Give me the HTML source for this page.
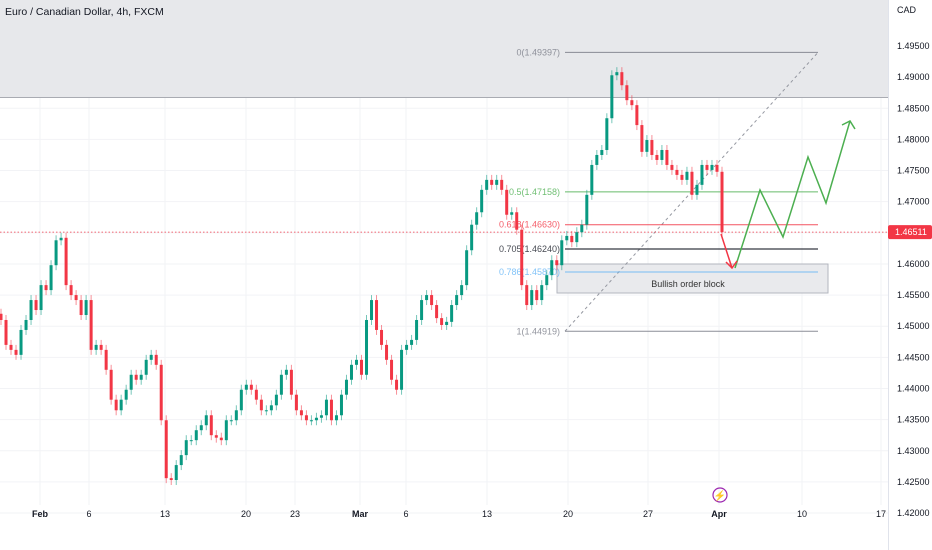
<!DOCTYPE html>
<html><head><meta charset="utf-8">
<style>
body{margin:0;background:#fff;}
svg{display:block;font-family:"Liberation Sans",sans-serif;}
</style></head>
<body>
<svg id="chart" width="932" height="550" viewBox="0 0 932 550" xmlns="http://www.w3.org/2000/svg">
<rect x="0" y="0" width="932" height="550" fill="#fff"/>
<g id="grid"></g>
<rect x="0" y="0" width="888" height="97" fill="#e7e8eb"/>
<line x1="0" y1="97.5" x2="888" y2="97.5" stroke="#a9abb2" stroke-width="1"/>
<text x="5" y="15" font-size="10.5" fill="#131722">Euro / Canadian Dollar, 4h, FXCM</text>
<rect x="557" y="264" width="271" height="29" fill="#e9eaed" stroke="#b2b5be" stroke-width="1"/>
<text x="688" y="287" font-size="9" fill="#333" text-anchor="middle">Bullish order block</text>
<g id="fib"></g>
<line id="lastline" x1="0" x2="888" stroke="#f23645" stroke-width="0.7" stroke-dasharray="1.5,2"/>
<g id="candles"></g>
<g id="proj"></g>
<g id="axis"></g>
<g id="xaxis"></g>
<circle cx="720" cy="495" r="7" fill="none" stroke="#9c27b0" stroke-width="1.2"/>
<text x="720" y="499" font-size="10" fill="#9c27b0" text-anchor="middle">⚡</text>
</svg>
<script>
const closes=[1.4510,1.4470,1.4462,1.4454,1.4494,1.4510,1.4542,1.4526,1.4566,1.4558,1.4598,1.4638,1.4642,1.4566,1.4550,1.4542,1.4518,1.4542,1.4462,1.4470,1.4462,1.4430,1.4382,1.4365,1.4382,1.4398,1.4422,1.4414,1.4422,1.4446,1.4454,1.4438,1.4349,1.4256,1.4253,1.4277,1.4293,1.4317,1.4317,1.4333,1.4341,1.4357,1.4325,1.4321,1.4317,1.4349,1.4349,1.4365,1.4398,1.4406,1.4398,1.4382,1.4365,1.4365,1.4373,1.4390,1.4422,1.4430,1.4390,1.4365,1.4357,1.4349,1.4349,1.4353,1.4357,1.4382,1.4349,1.4357,1.4390,1.4414,1.4438,1.4446,1.4422,1.4510,1.4542,1.4494,1.4470,1.4446,1.4414,1.4398,1.4462,1.4470,1.4478,1.4510,1.4542,1.4550,1.4534,1.4513,1.4502,1.4507,1.4534,1.4550,1.4566,1.4622,1.4663,1.4683,1.4719,1.4735,1.4727,1.4735,1.4719,1.4679,1.4683,1.4655,1.4566,1.4534,1.4558,1.4542,1.4566,1.4582,1.4606,1.4598,1.4638,1.4645,1.4635,1.4651,1.4663,1.4711,1.4759,1.4775,1.4783,1.4834,1.4903,1.4908,1.4887,1.4863,1.4855,1.4823,1.4780,1.4799,1.4775,1.4767,1.4783,1.4759,1.4751,1.4743,1.4735,1.4748,1.4711,1.4727,1.4759,1.4751,1.4759,1.4748,1.46511];
const priceTicks=[1.495,1.490,1.485,1.480,1.475,1.470,1.465,1.460,1.455,1.450,1.445,1.440,1.435,1.430,1.425,1.420];
const dateLabels=["Feb","6","13","20","23","Mar","6","13","20","27","Apr","10","17"];
const dateX=[40,89,165,246,295,360,406,487,568,648,719,802,881];
const fibRatios=["0","0.5","0.618","0.705","0.786","1"];
const fibPrices=[1.49397,1.47158,1.46630,1.46240,1.45870,1.44919];
const fibColors=["#787b86","#4caf50","#f23645","#131722","#64b5f6","#787b86"];
const lastPrice=1.46511;
const NS="http://www.w3.org/2000/svg";
function y(p){return 46+(1.495-p)*6227;}
function x(i){return 1+i*(721/(closes.length-1));}
function mk(t,a,par){const e=document.createElementNS(NS,t);for(const k in a)e.setAttribute(k,a[k]);par.appendChild(e);return e;}
const grid=document.getElementById('grid');
priceTicks.forEach(p=>{const l=mk('line',{x1:0,x2:888,y1:y(p),y2:y(p),stroke:'#f2f3f6','stroke-width':1},grid);});
dateX.forEach(d=>{const l=mk('line',{x1:d,x2:d,y1:0,y2:505,stroke:'#f2f3f6','stroke-width':1},grid);});
// fib
const fib=document.getElementById('fib');
const dl=mk('line',{x1:565,y1:y(fibPrices[5]),x2:818,y2:y(fibPrices[0]),stroke:'#9598a1','stroke-width':1,'stroke-dasharray':'3,3'},fib);

fibPrices.forEach((p,i)=>{
 const l=mk('line',{x1:565,x2:818,y1:y(p),y2:y(p),stroke:fibColors[i],'stroke-width':i==3?1.3:1,opacity:0.85},fib);
 
 const t=mk('text',{x:560,y:y(p)+3,'font-size':9,fill:fibColors[i],'text-anchor':'end',opacity:0.8},fib);
 t.textContent=fibRatios[i]+"("+p.toFixed(5)+")";
 
});
const ll=document.getElementById('lastline');ll.setAttribute('y1',y(lastPrice));ll.setAttribute('y2',y(lastPrice));
// candles
const cg=document.getElementById('candles');
closes.forEach((c,i)=>{
 const o=i?closes[i-1]:c+0.0010;
 const col=c>=o?'#089981':'#f23645';
 const hi=Math.max(o,c)+0.0008, lo=Math.min(o,c)-0.0008;
 const w=mk('line',{x1:x(i),x2:x(i),y1:y(hi),y2:y(lo),stroke:col,'stroke-width':1,opacity:0.55},cg);
 
 const top=y(Math.max(o,c)),h=Math.max(1,y(Math.min(o,c))-top);
 const b=mk('rect',{x:x(i)-1.5,y:top,width:3,height:h,fill:col},cg);
 
});
// projection
const pg=document.getElementById('proj');
const gp=mk('polyline',{points:"735,268 760,190 783,237 808,157 826,203 850,121",fill:'none',stroke:'#4caf50','stroke-width':1.5},pg);

const ga=mk('polyline',{points:"842,125 850,121 855,129",fill:'none',stroke:'#4caf50','stroke-width':1.5},pg);

const rp=mk('polyline',{points:"721,234 732,268",fill:'none',stroke:'#f23645','stroke-width':1.5},pg);

const ra=mk('polyline',{points:"726,262 732,268 737,261",fill:'none',stroke:'#f23645','stroke-width':1.5},pg);

// price axis
const ax=document.getElementById('axis');
const ab=mk('rect',{x:888,y:0,width:44,height:550,fill:'#fff'},ax);
const abl=mk('line',{x1:888.5,x2:888.5,y1:0,y2:550,stroke:'#e0e3eb'},ax);
const cad=mk('text',{x:897,y:13,'font-size':9,fill:'#131722'},ax);cad.textContent="CAD";
priceTicks.forEach(p=>{const t=mk('text',{x:897,y:y(p)+3,'font-size':9,fill:'#131722'},ax);t.textContent=p.toFixed(5);});
const tag=mk('rect',{x:888,y:y(lastPrice)-7,width:44,height:14,fill:'#f23645',rx:2},ax);
const tt=mk('text',{x:895,y:y(lastPrice)+3,'font-size':9,fill:'#fff'},ax);tt.textContent=lastPrice.toFixed(5);
// time axis
const xa=document.getElementById('xaxis');
dateLabels.forEach((d,i)=>{const t=mk('text',{x:dateX[i],y:517,'font-size':9,fill:'#131722','text-anchor':'middle','font-weight':(d=="Feb"||d=="Mar"||d=="Apr")?'bold':'normal'},xa);t.textContent=d;});
</script>
</body></html>
